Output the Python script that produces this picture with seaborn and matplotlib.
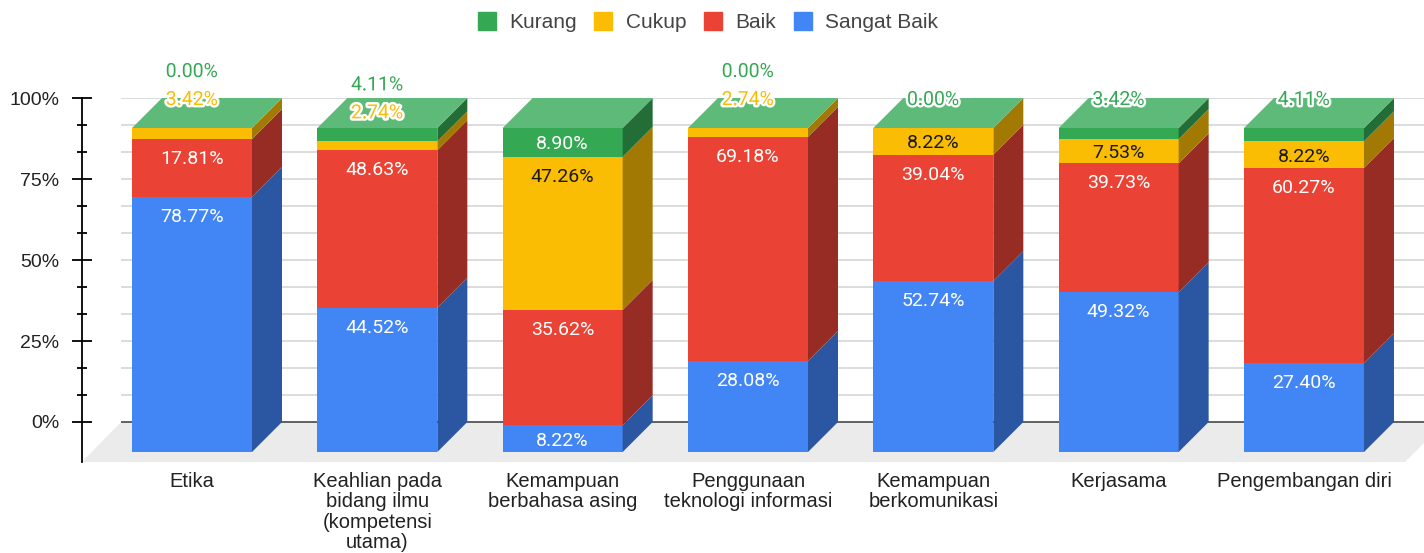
import numpy as np
import pandas as pd
import matplotlib
matplotlib.use("Agg")
import matplotlib.pyplot as plt
import matplotlib.patheffects as pe
from matplotlib.lines import Line2D
from matplotlib.transforms import ScaledTranslation
import seaborn as sns

# --- data ---
categories = [
    "Etika",
    "Keahlian pada\nbidang ilmu\n(kompetensi\nutama)",
    "Kemampuan\nberbahasa asing",
    "Penggunaan\nteknologi informasi",
    "Kemampuan\nberkomunikasi",
    "Kerjasama",
    "Pengembangan diri",
]
sangat_baik = [78.77, 44.52, 8.22, 28.08, 52.74, 49.32, 27.40]
baik = [17.81, 48.63, 35.62, 69.18, 39.04, 39.73, 60.27]
cukup = [3.42, 2.74, 47.26, 2.74, 8.22, 7.53, 8.22]
kurang = [0.00, 4.11, 8.90, 0.00, 0.00, 3.42, 4.11]
series_names = ["Sangat Baik", "Baik", "Cukup", "Kurang"]
legend_order = ["Kurang", "Cukup", "Baik", "Sangat Baik"]
y_ticks = [0, 25, 50, 75, 100]

# --- style ---
front_col = {"Sangat Baik": "#4285F4", "Baik": "#EA4335", "Cukup": "#FBBC04", "Kurang": "#34A853"}
side_col = {"Sangat Baik": "#2B56A1", "Baik": "#962C24", "Cukup": "#A27A03", "Kurang": "#236E37"}
top_col = "#5EBA78"
label_col = {"Sangat Baik": "white", "Baik": "white", "Cukup": "#1a1a1a", "Kurang": "white"}

W_PX, H_PX = 1424, 553
AX_L, AX_R, AX_TOP, AX_BOT = 82, 1424, 98, 462
X0_PX, STEP_PX = 192, 185.33       # centre of first bar, spacing
BAR_PX, DEPTH, FLOOR = 120, 30, 40
PX = 100 / (422 - 98)                # y data units per pixel
XPX = 1 / STEP_PX                    # x data units per pixel

sns.set_style("white")
plt.rcParams["font.family"] = ["Liberation Sans", "DejaVu Sans"]

df = pd.DataFrame({"category": categories, "Sangat Baik": sangat_baik,
                   "Baik": baik, "Cukup": cukup, "Kurang": kurang})
stack = df.copy()
stack[series_names] = df[series_names].cumsum(axis=1)

fig = plt.figure(figsize=(W_PX / 100, H_PX / 100), dpi=100)
ax = fig.add_axes([AX_L / W_PX, (H_PX - AX_BOT) / H_PX,
                   (AX_R - AX_L) / W_PX, (AX_BOT - AX_TOP) / H_PX])

xmin = (AX_L - X0_PX) * XPX
xmax = (AX_R - X0_PX) * XPX
ymin = -FLOOR * PX
w = BAR_PX * XPX
dx, dy = DEPTH * XPX, DEPTH * PX

# floor and back wall grid
ax.fill([xmin, xmax - 19 * XPX, xmax + 21 * XPX, xmin + 39 * XPX],
        [ymin, ymin, 0, 0], color="#ebebeb", lw=0, zorder=0)
minor = np.arange(0, 100.01, 25 / 3)
ax.hlines(minor[1:], xmin + 39 * XPX, xmax, color="#d6d6d6", lw=1.2, zorder=0.5)
ax.hlines([0], xmin + 39 * XPX, xmax, color="#555555", lw=1.3, zorder=0.6)

# front faces, stacked from the top series down
for name in reversed(series_names):
    sns.barplot(data=stack, x="category", y=name, color=front_col[name],
                width=w, saturation=1, errorbar=None, linewidth=0, ax=ax, zorder=2)
front_shift = ax.transData + ScaledTranslation(0, -DEPTH / 100, fig.dpi_scale_trans)
for p in ax.patches:
    if p.get_zorder() == 2:
        p.set_transform(front_shift)

# side and top faces
for i in range(len(categories)):
    xr = i + w / 2
    lo = 0
    for name in series_names:
        hi = lo + df.loc[i, name]
        if hi > lo:
            ax.fill([xr, xr + dx, xr + dx, xr], [lo - dy, lo, hi, hi - dy],
                    color=side_col[name], lw=0, zorder=2)
        lo = hi
    ax.fill([i - w / 2, xr, xr + dx, i - w / 2 + dx], [lo - dy, lo - dy, lo, lo],
            color=top_col, lw=0, zorder=2)

# data labels
halo = [pe.withStroke(linewidth=3.5, foreground="white")]
for i in range(len(categories)):
    lo = 0
    prev_out = -1e9
    for name in series_names:
        v = df.loc[i, name]
        hi = lo + v
        if v >= 6:
            top, bot = hi - dy, lo - dy
            yc = max(top - 18 * PX, (top + bot) / 2)
            ax.text(i, yc - 7 * PX, f"{v:.2f}%", ha="center", va="baseline",
                    fontsize=14, family="Roboto", color=label_col[name], zorder=5)
        else:
            yc = max(hi, prev_out + 28 * PX)
            prev_out = yc
            ax.text(i, yc - 7 * PX, f"{v:.2f}%", ha="center", va="baseline",
                    fontsize=14, family="Roboto", color=front_col[name],
                    path_effects=halo, zorder=6, clip_on=False)
        lo = hi

# axes
ax.set_xlim(xmin, xmax)
ax.set_ylim(ymin, 100)
ax.set_xlabel("")
ax.set_ylabel("")
for s in ["top", "right", "bottom"]:
    ax.spines[s].set_visible(False)
ax.spines["left"].set_bounds(ymin, 100)
ax.spines["left"].set_color("black")
ax.spines["left"].set_linewidth(1.3)
ax.spines["left"].set_zorder(3)
ax.set_yticks(y_ticks)
ax.set_yticklabels([f"{t}%" for t in y_ticks])
ax.set_yticks(minor, minor=True)
ax.tick_params(axis="y", which="major", direction="inout", length=14.4, width=1.3,
               color="black", labelsize=14, labelcolor="#222222", pad=9, left=True)
ax.tick_params(axis="y", which="minor", direction="inout", length=7.2, width=1.3,
               color="black", left=True)
ax.set_xticks(range(len(categories)))
ax.set_xticklabels(categories, fontsize=14.5, color="#222222", linespacing=1.1)
ax.tick_params(axis="x", length=0, pad=7)

handles = [Line2D([], [], marker="s", linestyle="none", markersize=13.5,
                  markerfacecolor=front_col[n], markeredgecolor=front_col[n])
           for n in legend_order]
fig.legend(handles, legend_order, loc="center", bbox_to_anchor=(707.5 / W_PX, 1 - 23 / H_PX),
           ncol=4, frameon=False, fontsize=15, handlelength=0.95, handletextpad=0.6,
           columnspacing=0.8, labelcolor="#444444")

fig.savefig("out.png", dpi=100)
